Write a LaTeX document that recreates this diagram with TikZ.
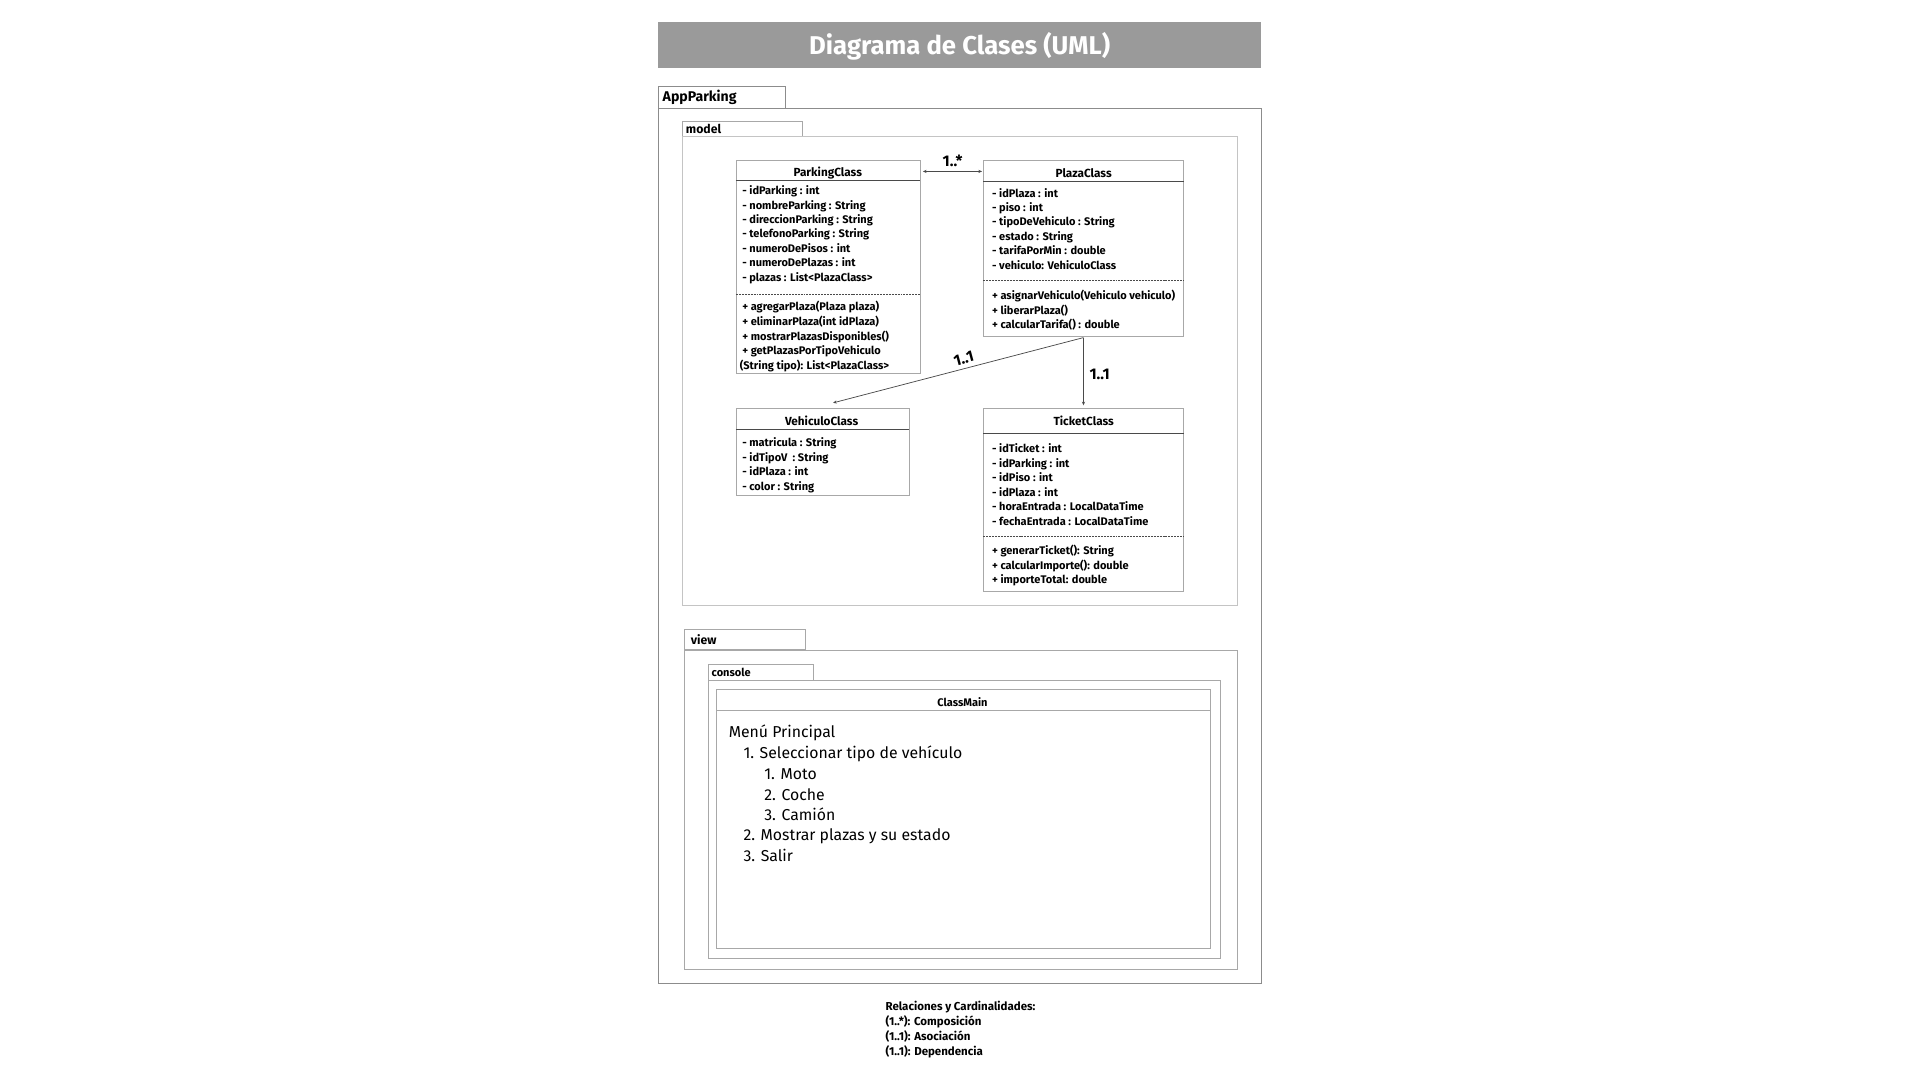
\documentclass[tikz,border=0pt]{standalone}
\usepackage{fontspec}
\setmainfont{Fira Sans}
\usetikzlibrary{arrows.meta}
\definecolor{titlegray}{HTML}{9A9A9A}
\definecolor{framegray}{HTML}{A8A8A8}
\definecolor{outergray}{HTML}{8C8C8C}
\definecolor{lightgray}{HTML}{C4C4C4}
\definecolor{darkline}{HTML}{4A4A4A}
\begin{document}
\begin{tikzpicture}[x=1pt,y=-1pt,
  pkgframe/.style={draw=framegray, line width=0.7pt, anchor=north west, inner sep=0, fill=none},
  tabbox/.style={draw=framegray, line width=0.7pt, anchor=north west, inner sep=0},
  tablbl/.style={anchor=west, inner sep=0, yshift=-1.2pt, text height=0.72em, text depth=0.2em, font=\bfseries\fontsize{10}{12}\selectfont},
  classbox/.style={draw=framegray, line width=0.7pt, anchor=north west, inner sep=0},
  hdr/.style={draw=darkline, line width=0.8pt},
  sep/.style={draw=darkline, line width=0.6pt, dash pattern=on 1.6pt off 0.8pt},
  mem/.style={anchor=west, inner sep=0, yshift=-1.3pt, text height=0.72em, text depth=0.2em, font=\bfseries\fontsize{9}{10}\selectfont},
  ctitle/.style={inner sep=0, yshift=-1pt, font=\bfseries\fontsize{9.6}{11}\selectfont},
  menu/.style={anchor=west, inner sep=0, yshift=-1.8pt, text height=0.72em, text depth=0.2em, font=\fontsize{12.9}{14}\selectfont},
  card/.style={inner sep=0, yshift=-0.8pt, font=\bfseries\fontsize{12.6}{14}\selectfont},
  legend/.style={anchor=west, inner sep=0, yshift=-1.3pt, text height=0.72em, text depth=0.2em, font=\bfseries\fontsize{9.4}{11}\selectfont},
  arr/.style={draw=darkline, line width=0.6pt, -{Stealth[length=3pt,width=2.6pt]}},
  darr/.style={draw=darkline, line width=0.6pt, {Stealth[length=3pt,width=2.6pt]}-{Stealth[length=3pt,width=2.6pt]}}
]
\useasboundingbox (0,0) rectangle (1568,882);
\fill[white] (0,0) rectangle (1568,882);

% Title
\node[fill=titlegray, anchor=north west, minimum width=493pt, minimum height=37pt, inner sep=0] (titlebar) at (537,18) {};
\node[text=white, font=\bfseries\fontsize{21}{24}\selectfont, inner sep=0] (titletext) at ([yshift=-1.3pt]titlebar.center) {Diagrama de Clases (UML)};

% AppParking package
\node[tabbox, draw=outergray, minimum width=104pt, minimum height=18pt] (apptab) at (537,70) {};
\node[tablbl, font=\bfseries\fontsize{11.5}{13}\selectfont] (applbl) at (541,79) {AppParking};
\node[pkgframe, draw=outergray, minimum width=493pt, minimum height=715pt] (app) at (537,88) {};

% model package
\node[tabbox, minimum width=98pt, minimum height=12pt] (modeltab) at (557,99) {};
\node[tablbl] (modellbl) at (560,105.5) {model};
\node[pkgframe, draw=lightgray, minimum width=453pt, minimum height=383pt] (model) at (557,111) {};

% ParkingClass
\node[classbox, minimum width=150pt, minimum height=174pt] (parking) at (601,131) {};
\node[ctitle] (parkingt) at (676,140) {ParkingClass};
\draw[hdr] ([yshift=-16pt]parking.north west) -- ([yshift=-16pt]parking.north east);
\foreach \t [count=\i] in {- idParking : int, - nombreParking : String, - direccionParking : String, - telefonoParking : String, - numeroDePisos : int, - numeroDePlazas : int, - plazas : List<PlazaClass>}
  \node[mem] (pa\i) at (606,{155+11.8*(\i-1)}) {\t};
\draw[sep] ([yshift=-109pt]parking.north west) -- ([yshift=-109pt]parking.north east);
\foreach \t [count=\i] in {+ agregarPlaza(Plaza plaza), + eliminarPlaza(int idPlaza), + mostrarPlazasDisponibles(), + getPlazasPorTipoVehiculo}
  \node[mem] (pm\i) at (606,{250+11.9*(\i-1)}) {\t};
\node[mem] (pm5) at (604,298) {(String tipo): List<PlazaClass>};

% PlazaClass
\node[classbox, minimum width=163pt, minimum height=143pt] (plaza) at (803,131) {};
\node[ctitle] (plazat) at (885,140) {PlazaClass};
\draw[hdr] ([yshift=-17pt]plaza.north west) -- ([yshift=-17pt]plaza.north east);
\foreach \t [count=\i] in {- idPlaza : int, - piso : int, - tipoDeVehiculo : String, - estado : String, - tarifaPorMin : double, - vehiculo: VehiculoClass}
  \node[mem] (za\i) at (810,{157+11.8*(\i-1)}) {\t};
\draw[sep] ([yshift=-98pt]plaza.north west) -- ([yshift=-98pt]plaza.north east);
\foreach \t [count=\i] in {+ asignarVehiculo(Vehiculo vehiculo), + liberarPlaza(), + calcularTarifa() : double}
  \node[mem] (zm\i) at (810,{241+11.8*(\i-1)}) {\t};

% VehiculoClass
\node[classbox, minimum width=141pt, minimum height=71pt] (vehiculo) at (601,333) {};
\node[ctitle] (vehiculot) at (671,342.5) {VehiculoClass};
\draw[hdr] ([yshift=-18pt]vehiculo.north west) -- ([yshift=-18pt]vehiculo.north east);
\foreach \t [count=\i] in {- matricula : String, - idTipoV~ : String, - idPlaza : int, - color : String}
  \node[mem] (va\i) at (606,{361+11.9*(\i-1)}) {\t};

% TicketClass
\node[classbox, minimum width=163pt, minimum height=150pt] (ticket) at (803,333) {};
\node[ctitle] (tickett) at (885,343) {TicketClass};
\draw[hdr] ([yshift=-21pt]ticket.north west) -- ([yshift=-21pt]ticket.north east);
\foreach \t [count=\i] in {- idTicket : int, - idParking : int, - idPiso : int, - idPlaza : int, - horaEntrada : LocalDataTime, - fechaEntrada : LocalDataTime}
  \node[mem] (ta\i) at (810,{366+11.8*(\i-1)}) {\t};
\draw[sep] ([yshift=-105pt]ticket.north west) -- ([yshift=-105pt]ticket.north east);
\foreach \t [count=\i] in {+ generarTicket(): String, + calcularImporte(): double, + importeTotal: double}
  \node[mem] (tm\i) at (810,{449+11.9*(\i-1)}) {\t};

% Connectors
\draw[darr] ([xshift=2pt,yshift=-9pt]parking.north east) -- ([xshift=-1pt,yshift=-9pt]plaza.north west);
\node[card] (c1) at (778,131) {1..*};
\draw[arr] ([yshift=-1pt]plaza.south) -- ([xshift=8.5pt,yshift=4pt]vehiculo.north);
\node[card, rotate=15] (c2) at (787,292) {1..1};
\draw[arr] ([yshift=-1pt]plaza.south) -- ([yshift=2pt]ticket.north);
\node[card] (c3) at (898,305) {1..1};

% view package
\node[tabbox, minimum width=98pt, minimum height=16pt] (viewtab) at (559,514) {};
\node[tablbl] (viewlbl) at (564,522.5) {view};
\node[pkgframe, minimum width=451pt, minimum height=260pt] (view) at (559,531) {};

% console package
\node[tabbox, minimum width=86pt, minimum height=13pt] (consoletab) at (578,542) {};
\node[tablbl, font=\bfseries\fontsize{9}{10}\selectfont] (consolelbl) at (581,548.5) {console};
\node[pkgframe, minimum width=418pt, minimum height=227pt] (console) at (578,555) {};

% ClassMain
\node[classbox, draw=framegray, minimum width=403pt, minimum height=211pt] (classmain) at (585,563) {};
\node[ctitle, font=\bfseries\fontsize{9}{10}\selectfont] (classmaint) at (786,572) {ClassMain};
\draw[draw=framegray, line width=0.7pt] ([yshift=-17pt]classmain.north west) -- ([yshift=-17pt]classmain.north east);
\node[menu] (m0) at (595,598) {Menú Principal};
\node[menu] (m1) at (607,615) {1. Seleccionar tipo de vehículo};
\node[menu] (m2) at (624,632) {1. Moto};
\node[menu] (m3) at (624,649) {2. Coche};
\node[menu] (m4) at (624,665.5) {3. Camión};
\node[menu] (m5) at (607,682) {2. Mostrar plazas y su estado};
\node[menu] (m6) at (607,699) {3. Salir};

% Legend
\node[legend] (l0) at (723,821) {Relaciones y Cardinalidades:};
\node[legend] (l1) at (723,833.5) {(1..*): Composición};
\node[legend] (l2) at (723,846) {(1..1): Asociación};
\node[legend] (l3) at (723,858) {(1..1): Dependencia};
\end{tikzpicture}
\end{document}
